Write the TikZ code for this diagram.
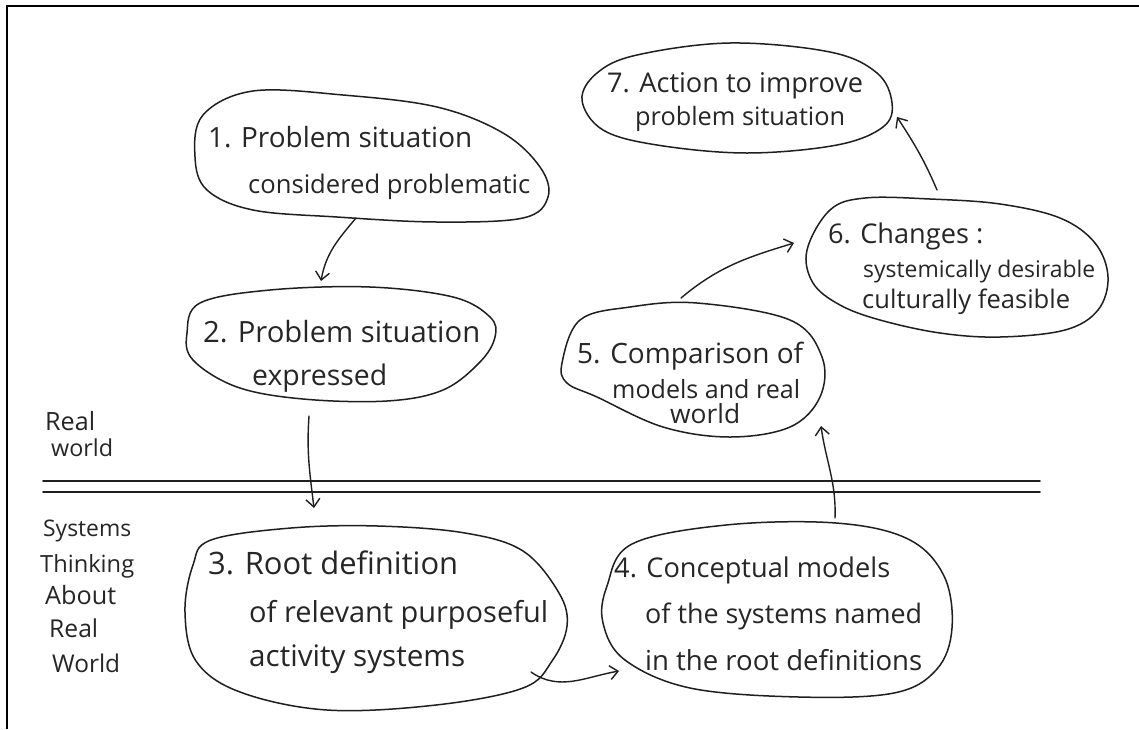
\documentclass[tikz,border=0pt]{standalone}
\usepackage{fontspec}
\setmainfont{Open Sans}
\usetikzlibrary{arrows.meta,shapes.geometric,calc}
\newcommand\fitw[2]{\resizebox{#1pt}{!}{#2}}

\begin{document}
\begin{tikzpicture}[x=1pt,y=-1pt,
  ink/.style={draw=black!88, line width=1.6pt, line join=round, line cap=round},
  blobline/.style={ink, line width=1.5pt},
  blob/.style={ellipse, draw=none, inner sep=0pt},
  arr/.style={draw=black!88, line width=1.4pt, line cap=round,
    -{Straight Barb[length=8pt,width=14pt,line width=1.4pt]}},
  hand/.style={anchor=base west, inner sep=0pt, text=black!85,
    font=\fontsize{26}{30}\selectfont},
]
\useasboundingbox (0,0) rectangle (1139,729);
\fill[white] (0,0) rectangle (1139,729);

% page frame (top and left edges)
\draw[line width=2.6pt] (1139,6) -- (7,6) -- (7,729);

% dividing double line
\draw[ink, line width=1.8pt] (43,481) -- (1040,481);
\draw[ink, line width=1.8pt] (43,492) -- (1040,492);

% stage nodes
\node[blob, minimum width=353pt, minimum height=131pt] (b1) at (371.5,156.5) {};
\node[blob, minimum width=308pt, minimum height=114pt] (b2) at (341,344) {};
\node[blob, minimum width=382pt, minimum height=184pt] (b3) at (376,618) {};
\node[blob, minimum width=349pt, minimum height=174pt] (b4) at (777.5,610) {};
\node[blob, minimum width=260pt, minimum height=134pt] (b5) at (692,370) {};
\node[blob, minimum width=301pt, minimum height=139pt] (b6) at (957.5,267.5) {};
\node[blob, minimum width=310pt, minimum height=110pt] (b7) at (737,98) {};

% hand-drawn outlines of the stages
\draw[blobline] plot[smooth cycle, tension=0.6] coordinates {(203,115) (253,91) (343,95) (437,107) (503,133) (540,167) (548,197) (523,218) (437,222) (337,217) (253,210) (207,190) (195,157)};
\draw[blobline] plot[smooth cycle, tension=0.6] coordinates {(200,303) (270,290) (370,287) (453,297) (490,317) (495,337) (480,362) (443,390) (387,401) (303,399) (237,387) (193,360) (187,333)};
\draw[blobline] plot[smooth cycle, tension=0.6] coordinates {(211,540) (291,528) (378,526) (465,533) (523,551) (559,593) (567,626) (552,661) (523,688) (436,705) (327,710) (240,692) (196,661) (185,612) (193,565)};
\draw[blobline] plot[smooth cycle, tension=0.6] coordinates {(607,586) (632,544) (726,525) (836,523) (908,539) (944,576) (952,628) (937,669) (894,693) (799,697) (690,688) (625,660) (603,623)};
\draw[blobline] plot[smooth cycle, tension=0.6] coordinates {(562,363) (580,320) (630,307) (697,303) (790,320) (822,357) (820,397) (790,427) (730,437) (663,427) (597,397) (567,383)};
\draw[blobline] plot[smooth cycle, tension=0.6] coordinates {(807,250) (830,210) (865,198) (930,199) (1000,204) (1060,218) (1095,243) (1108,277) (1098,310) (1065,330) (1000,337) (940,333) (880,320) (840,305) (813,283)};
\draw[blobline] plot[smooth cycle, tension=0.6] coordinates {(582,100) (597,73) (637,55) (730,43) (830,52) (877,73) (892,103) (883,127) (837,145) (747,153) (657,145) (603,130)};

% stage texts
\node[hand] (t1a) at (208,147) {\fitw{264}{1. Problem situation}};
\node[hand] (t1b) at (248,193) {\fitw{282}{considered problematic}};
\node[hand] (t2a) at (203,342) {\fitw{277}{2. Problem situation}};
\node[hand] (t2b) at (252,385) {\fitw{135}{expressed}};
\node[hand] (t3a) at (208,574) {\fitw{250}{3. Root definition}};
\node[hand] (t3b) at (249,622) {\fitw{299}{of relevant purposeful}};
\node[hand] (t3c) at (249,666) {\fitw{216}{activity systems}};
\node[hand] (t4a) at (614,577) {\fitw{276}{4. Conceptual models}};
\node[hand] (t4b) at (645,623) {\fitw{277}{of the systems named}};
\node[hand] (t4c) at (645,670) {\fitw{277}{in the root definitions}};
\node[hand] (t5a) at (577,363) {\fitw{226}{5. Comparison of}};
\node[hand] (t5b) at (612,398) {\fitw{188}{models and real}};
\node[hand] (t5c) at (670,423) {\fitw{70}{world}};
\node[hand] (t6a) at (828,243) {\fitw{155}{6. Changes :}};
\node[hand] (t6b) at (863,277) {\fitw{232}{systemically desirable}};
\node[hand] (t6c) at (862,308) {\fitw{208}{culturally feasible}};
\node[hand] (t7a) at (607,92) {\fitw{256}{7. Action to improve}};
\node[hand] (t7b) at (635,125) {\fitw{210}{problem situation}};

% side labels
\node[hand] (l1) at (45,430) {\fitw{50}{Real}};
\node[hand] (l2) at (51,456) {\fitw{62}{world}};
\node[hand] (l3) at (43,536) {\fitw{88}{Systems}};
\node[hand] (l4) at (40,572) {\fitw{94}{Thinking}};
\node[hand] (l5) at (45,604) {\fitw{71}{About}};
\node[hand] (l6) at (49,637) {\fitw{49}{Real}};
\node[hand] (l7) at (52,672) {\fitw{68}{World}};

% cycle of arrows
\draw[arr] ($(b1)+(-15.5,61.5)$) to[out=230, in=80] ($(b2)+(-20,-63)$);
\draw[arr] ($(b2)+(-32,72)$) to[out=266, in=97] ($(b3)+(-62,-110)$);
\draw[arr] ($(b3)+(155,54)$) to[out=-35, in=190] ($(b4)+(-158.5,61)$);
\draw[arr] ($(b4)+(57.5,-92)$) to[out=88, in=-82] ($(b5)+(129,56)$);
\draw[arr] ($(b5)+(-11,-72)$) to[out=40, in=197] ($(b6)+(-163.5,-24.5)$);
\draw[arr] ($(b6)+(-20.5,-77.5)$) to[out=113, in=-57] ($(b7)+(160,19)$);
\end{tikzpicture}
\end{document}
